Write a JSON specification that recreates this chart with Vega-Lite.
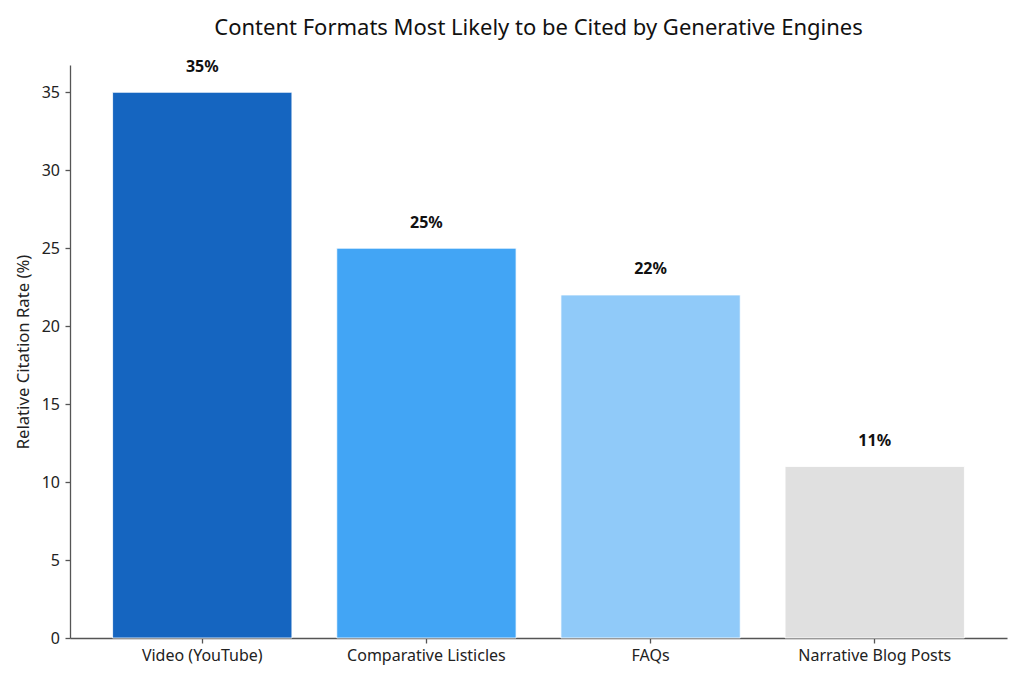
{
  "$schema": "https://vega.github.io/schema/vega-lite/v6.json",
  "autosize": {"type": "none"},
  "width": 937,
  "height": 573,
  "padding": {"left": 70, "top": 65, "right": 17, "bottom": 45},
  "background": "white",
  "config": {
    "font": "Noto Sans",
    "view": {"stroke": null},
    "axis": {"grid": false, "domainColor": "#555555", "tickColor": "#555555", "labelColor": "#222222", "titleColor": "#222222", "labelFont": "Noto Sans", "titleFont": "Noto Sans", "domainWidth": 1.3, "tickWidth": 1.3}
  },
  "title": {"text": "Content Formats Most Likely to be Cited by Generative Engines", "fontSize": 22, "fontWeight": "normal", "color": "#111111", "font": "Noto Sans", "offset": 19, "anchor": "middle"},
  "data": {"values": [
    {"format": "Video (YouTube)", "rate": 35, "label": "35%", "color": "#1565C0"},
    {"format": "Comparative Listicles", "rate": 25, "label": "25%", "color": "#42A5F5"},
    {"format": "FAQs", "rate": 22, "label": "22%", "color": "#90CAF9"},
    {"format": "Narrative Blog Posts", "rate": 11, "label": "11%", "color": "#E0E0E0"}
  ]},
  "encoding": {
    "x": {"field": "format", "type": "nominal", "sort": null,
      "scale": {"paddingInner": 0.2, "paddingOuter": 0.19},
      "axis": {"title": null, "labelAngle": 0, "labelFontSize": 16, "tickSize": 5, "labelPadding": 4}}
  },
  "layer": [
    {
      "mark": {"type": "bar", "stroke": "white", "strokeWidth": 0.8},
      "encoding": {
        "y": {"field": "rate", "type": "quantitative", "scale": {"domain": [0, 36.75], "nice": false},
          "axis": {"title": "Relative Citation Rate (%)", "titleFontSize": 16.7, "titleFontWeight": "normal", "labelFontSize": 16, "tickSize": 5, "values": [0, 5, 10, 15, 20, 25, 30, 35], "titlePadding": 9, "labelPadding": 5.5}},
        "color": {"field": "color", "type": "nominal", "scale": null}
      }
    },
    {
      "mark": {"type": "text", "fontWeight": "bold", "fontSize": 16, "baseline": "alphabetic", "dy": -20.5, "color": "#111111"},
      "encoding": {
        "y": {"field": "rate", "type": "quantitative"},
        "text": {"field": "label"}
      }
    }
  ]
}
